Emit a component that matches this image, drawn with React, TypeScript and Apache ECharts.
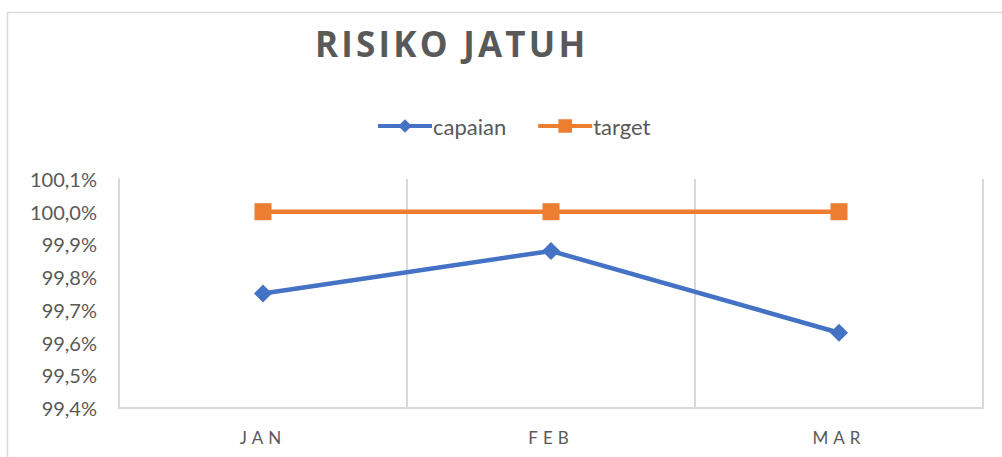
import React, { useEffect, useRef } from "react";
import * as echarts from "echarts";

const TITLE = "RISIKO JATUH";
const categories = ["JAN", "FEB", "MAR"];
const capaian = [99.75, 99.88, 99.63];
const target = [100.0, 100.0, 100.0];
const yMin = 99.4;
const yMax = 100.1;
const yStep = 0.1;

const TEXT = "#595959";
const BLUE = "#4472C4";
const ORANGE = "#ED7D31";

export default function App() {
  const ref = useRef<HTMLDivElement>(null);
  useEffect(() => {
    document.body.style.margin = "0";
    const chart = echarts.init(ref.current!, null, { renderer: "svg" });
    chart.setOption({
      animation: false,
      backgroundColor: "#ffffff",
      title: {
        text: TITLE,
        left: 310,
        top: 21,
        textStyle: {
          fontFamily: "Open Sans",
          fontWeight: "bold",
          fontSize: 35,
          color: TEXT,
        },
      },
      legend: {
        left: 371,
        top: 110,
        itemWidth: 54,
        itemHeight: 17,
        itemGap: 30,
        lineStyle: { width: 4 },
        textStyle: { fontFamily: "Lato", fontSize: 22, color: TEXT, padding: [0, 0, 0, -4] },
        data: ["capaian", "target"],
      },
      graphic: [
        {
          type: "rect",
          shape: { x: 7.5, y: 12.5, width: 1200, height: 600 },
          style: { fill: "none", stroke: "#d9d9d9", lineWidth: 1.5 },
          silent: true,
          z: -10,
        },
      ],
      grid: { left: 119, right: 19, top: 179, bottom: 49, containLabel: false },
      xAxis: {
        type: "category",
        data: categories,
        boundaryGap: true,
        axisLine: { show: true, lineStyle: { color: "#d9d9d9", width: 2 } },
        axisTick: { show: false },
        axisLabel: { fontFamily: "Lato", fontSize: 17, color: TEXT, margin: 21 },
        splitLine: { show: true, lineStyle: { color: "#d9d9d9", width: 2 } },
      },
      yAxis: {
        type: "value",
        min: yMin,
        max: yMax,
        interval: yStep,
        axisLine: { show: true, lineStyle: { color: "#d9d9d9", width: 2 } },
        axisTick: { show: false },
        splitLine: { show: false },
        axisLabel: {
          fontFamily: "Lato",
          fontSize: 20,
          color: TEXT,
          margin: 22,
          formatter: (v: number) => v.toFixed(1).replace(".", ",") + "%",
        },
      },
      series: [
        {
          name: "capaian",
          type: "line",
          data: capaian,
          symbol: "diamond",
          symbolSize: 18,
          lineStyle: { color: BLUE, width: 4.5 },
          itemStyle: { color: BLUE },
        },
        {
          name: "target",
          type: "line",
          data: target,
          symbol: "rect",
          symbolSize: 17,
          lineStyle: { color: ORANGE, width: 4.5 },
          itemStyle: { color: ORANGE },
        },
      ],
    });
    const svg = ref.current!.querySelector("svg");
    if (svg) {
      svg.querySelectorAll("text").forEach((t) => {
        const s = (t.textContent || "").trim();
        if (s === TITLE) t.style.letterSpacing = "3.2px";
        if (categories.includes(s)) t.style.letterSpacing = "5px";
      });
    }
    return () => chart.dispose();
  }, []);
  return <div ref={ref} style={{ width: 1002, height: 457 }} />;
}
